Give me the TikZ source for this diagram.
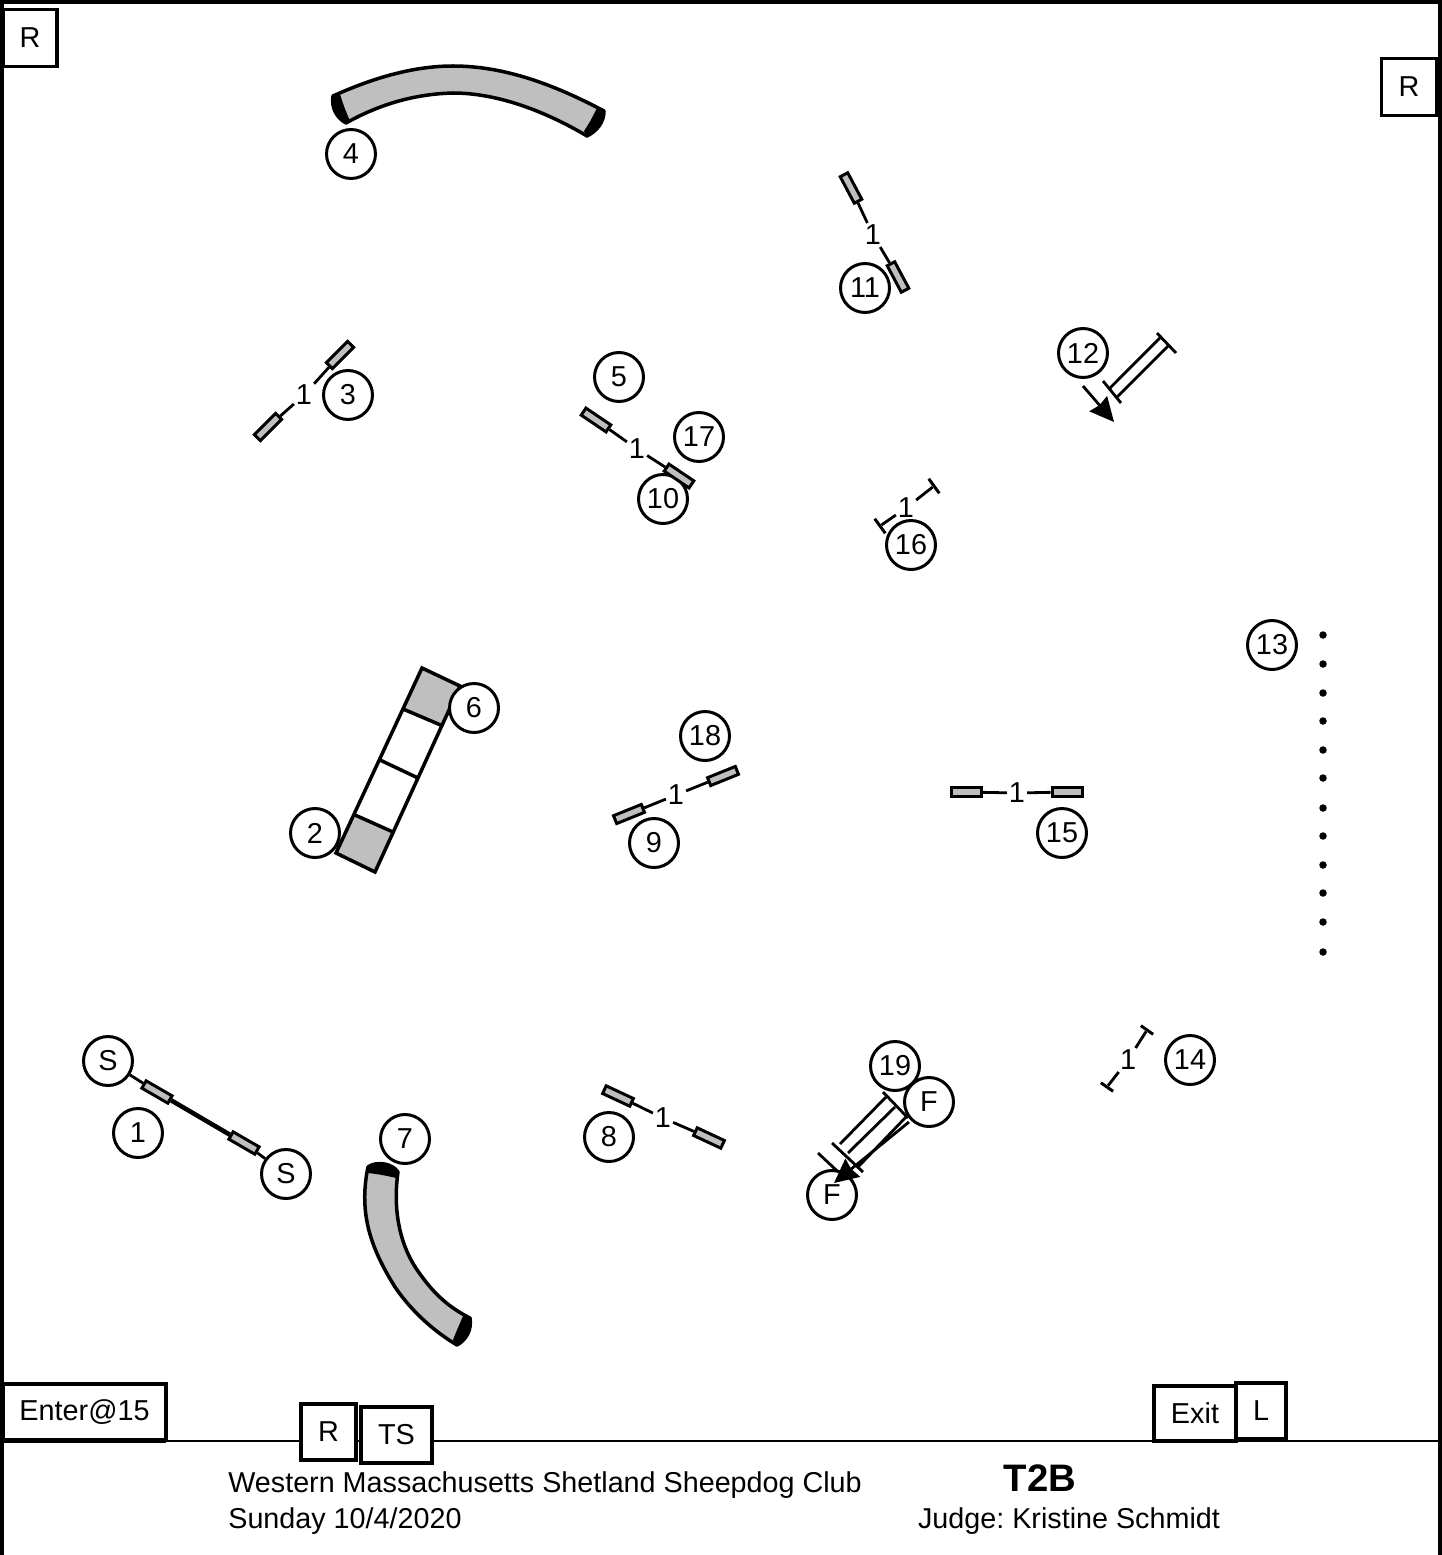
\documentclass[tikz,border=0pt]{standalone}
\usepackage{fontspec}
\setmainfont{Liberation Sans}
\usetikzlibrary{calc,arrows.meta,positioning}
\frenchspacing

\begin{document}
\begin{tikzpicture}[x=0.02cm, y=-0.02cm,
    obstacle/.style={line width=2pt, line join=miter},
    tunnel_fill/.style={fill=gray!50, draw=black, line width=2pt},
    number/.style={circle, draw=black, fill=white, line width=1.7pt,
      minimum size=0.98cm, inner sep=0pt, font=\fontsize{16.4}{18}\selectfont},
    sign/.style={rectangle, draw=black, fill=white, line width=2pt,
      inner sep=0pt, font=\fontsize{16.4}{18}\selectfont},
    wing/.style={rectangle, draw=black, fill=gray!50, line width=1.7pt,
      minimum width=0.60cm, minimum height=0.17cm, inner sep=0pt},
    bar_num/.style={inner sep=1pt, font=\fontsize{16.4}{18}\selectfont},
    bar_line/.style={line width=1.6pt},
    tick/.style={rectangle, fill=black, minimum height=1.7pt, inner sep=0pt},
    pole/.style={circle, fill=black, minimum size=0.15cm, inner sep=0pt},
    caption/.style={inner sep=0pt, font=\fontsize{16.35}{18}\selectfont},
    big_tip/.style={>={Stealth[length=0.48cm, width=0.46cm, inset=1pt]}},
    >=Stealth
  ]
  \useasboundingbox (0,0) rectangle (1442,1555);

  % --- Ring ---
  \draw[line width=2pt] (2,1555) -- (2,2) -- (1440,2) -- (1440,1555);
  \draw[line width=0.8pt] (2,1441) -- (1440,1441);
  \draw[line width=2pt] (2,1441) -- (166,1441);

  % --- Tunnel 4 ---
  \draw[tunnel_fill, line join=round] (333,96) .. controls (375,77) and (415,66) .. (453,66)
    .. controls (505,66) and (555,85) .. (604,111)
    .. controls (604,122) and (597,131) .. (587,136)
    .. controls (545,111) and (497,93) .. (453,93)
    .. controls (415,94) and (380,104) .. (346,123)
    .. controls (337,118) and (331,108) .. (333,96) -- cycle;
  \fill (333,96) .. controls (331,108) and (337,118) .. (346,123)
    -- (350,121) .. controls (346,112) and (343,104) .. (340,94) -- cycle;
  \fill (604,111) .. controls (604,122) and (597,131) .. (587,136)
    -- (584,131) .. controls (589,124) and (593,116) .. (597,108) -- cycle;

  % --- Tunnel 7 ---
  \draw[tunnel_fill, line join=round] (368,1167) .. controls (376,1161) and (392,1163) .. (398,1172)
    .. controls (392,1215) and (402,1250) .. (420,1274)
    .. controls (435,1295) and (450,1308) .. (470,1318)
    .. controls (472,1330) and (466,1340) .. (457,1345)
    .. controls (435,1332) and (412,1312) .. (395,1287)
    .. controls (372,1250) and (358,1215) .. (368,1167) -- cycle;
  \fill (368,1167) .. controls (376,1161) and (392,1163) .. (398,1172)
    -- (396,1178) .. controls (388,1176) and (378,1174) .. (368,1173) -- cycle;
  \fill (470,1318) .. controls (472,1330) and (466,1340) .. (457,1345)
    -- (453,1340) .. controls (456,1332) and (460,1323) .. (464,1314) -- cycle;

  % --- Dog walk ---
  \coordinate (D1) at (422,668);
  \coordinate (D2) at (460,686);
  \coordinate (D3) at (375,872);
  \coordinate (D4) at (336,853);
  \coordinate (U1) at (403,709);
  \coordinate (U2) at (443,726);
  \coordinate (L1) at (355,815);
  \coordinate (L2) at (393,832);
  \coordinate (M1) at (380,760);
  \coordinate (M2) at (418,778);
  \fill[gray!50] (D1) -- (D2) -- (U2) -- (U1) -- cycle;
  \fill[gray!50] (L1) -- (L2) -- (D3) -- (D4) -- cycle;
  \draw[obstacle] (D1) -- (D2) -- (D3) -- (D4) -- cycle;
  \draw[obstacle] (U1) -- (U2);
  \draw[obstacle] (M1) -- (M2);
  \draw[obstacle] (L1) -- (L2);

  % --- Numbers ---
  \node[number] (n1) at (138,1133) {1};
  \node[number] (n2) at (315,833) {2};
  \node[number] (n3) at (348,395) {3};
  \node[number] (n4) at (351,154) {4};
  \node[number] (n5) at (619,377) {5};
  \node[number] (n6) at (474,708) {6};
  \node[number] (n7) at (405,1139) {7};
  \node[number] (n8) at (609,1137) {8};
  \node[number] (n9) at (654,843) {9};
  \node[number] (n10) at (663,499) {10};
  \node[number] (n11) at (865,288) {11};
  \node[number] (n12) at (1083,353) {12};
  \node[number] (n13) at (1272,645) {13};
  \node[number] (n14) at (1190,1060) {14};
  \node[number] (n15) at (1062,833) {15};
  \node[number] (n16) at (911,545) {16};
  \node[number] (n17) at (699,437) {17};
  \node[number] (n18) at (705,736) {18};
  \node[number] (n19) at (895,1066) {19};
  \node[number] (startA) at (108,1061) {S};
  \node[number] (startB) at (286,1174) {S};

  % --- Start jump ---
  \node[wing, rotate=-30] (w1a) at (157,1092) {};
  \node[wing, rotate=-30] (w1b) at (244,1143) {};
  \draw[bar_line] (startA) -- (w1a);
  \draw[line width=2.6pt] (w1a) -- (w1b);
  \draw[bar_line] (w1b) -- (startB);

  % --- Winged jumps ---
  \node[wing, rotate=45] (w3a) at (268,427) {};
  \node[wing, rotate=45] (w3b) at (340,355) {};
  \node[bar_num] (j3) at (304,395) {1};
  \draw[bar_line] (w3a) -- (j3) -- (w3b);

  \node[wing, rotate=-34] (w5a) at (596,420) {};
  \node[wing, rotate=-34] (w5b) at (679,476) {};
  \node[bar_num] (j5) at (637,449) {1};
  \draw[bar_line] (w5a) -- (j5) -- (w5b);

  \node[wing, rotate=-62] (w11a) at (851,188) {};
  \node[wing, rotate=-62] (w11b) at (898,277) {};
  \node[bar_num] (j11) at (873,235) {1};
  \draw[bar_line] (w11a) -- (j11) -- (w11b);

  \node[wing, rotate=22] (w9a) at (629,814) {};
  \node[wing, rotate=22] (w9b) at (723,776) {};
  \node[bar_num] (j9) at (676,795) {1};
  \draw[bar_line] (w9a) -- (j9) -- (w9b);

  \node[wing] (w15a) at (966,792) {};
  \node[wing] (w15b) at (1067,792) {};
  \node[bar_num] (j15) at (1017,793) {1};
  \draw[bar_line] (w15a) -- (j15) -- (w15b);

  \node[wing, rotate=-25] (w8a) at (618,1096) {};
  \node[wing, rotate=-25] (w8b) at (709,1138) {};
  \node[bar_num] (j8) at (663,1118) {1};
  \draw[bar_line] (w8a) -- (j8) -- (w8b);

  % --- Small jumps ---
  \node[tick, minimum width=0.36cm, rotate=-54] (t16a) at (880,526) {};
  \node[tick, minimum width=0.36cm, rotate=-54] (t16b) at (934,486) {};
  \node[bar_num] (j16) at (906,508) {1};
  \draw[bar_line] (t16a) -- (j16) -- (t16b);

  \node[tick, minimum width=0.30cm, rotate=-35] (t14a) at (1107,1087) {};
  \node[tick, minimum width=0.30cm, rotate=-35] (t14b) at (1147,1030) {};
  \node[bar_num] (j14) at (1128,1060) {1};
  \draw[bar_line] (t14a) -- (j14) -- (t14b);

  % --- Jump 12 ---
  \coordinate (A12) at (1157,333);
  \coordinate (B12) at (1176,353);
  \coordinate (C12) at (1103,381);
  \coordinate (E12) at (1121,403);
  \coordinate (G12) at (1083,386);
  \coordinate (H12) at (1114,422);
  \draw[bar_line] (A12) -- (B12);
  \draw[bar_line] (C12) -- (E12);
  \draw[bar_line] ($(A12)!0.2!(B12)$) -- ($(C12)!0.35!(E12)$);
  \draw[bar_line] ($(A12)!0.62!(B12)$) -- ($(C12)!0.75!(E12)$);
  \draw[->, big_tip, bar_line] (G12) -- (H12);

  % --- Finish ---
  \coordinate (A19) at (883,1092);
  \coordinate (B19) at (908,1118);
  \coordinate (C19) at (832,1143);
  \coordinate (E19) at (863,1172);
  \coordinate (G19) at (818,1153);
  \coordinate (H19) at (850,1183);
  \coordinate (K19) at (909,1122);
  \coordinate (P19) at (834,1183);
  \draw[bar_line] (A19) -- (B19);
  \draw[bar_line] (C19) -- (E19);
  \draw[bar_line] (840,1144) -- (886,1097);
  \draw[bar_line] (848,1153) -- (895,1107);
  \draw[bar_line] (858,1167) -- (906,1117);
  \draw[bar_line] (G19) -- (H19);
  \node[number] (finishA) at (929,1102) {F};
  \node[number] (finishB) at (832,1195) {F};
  \draw[->, big_tip, bar_line] (K19) -- (P19);

  % --- Weave poles ---
  \foreach \i/\y in {1/635, 2/664, 3/693, 4/721, 5/750, 6/778, 7/808, 8/836, 9/865, 10/893, 11/922, 12/952}
    \node[pole] (pole\i) at (1323,\y) {};

  % --- Signs ---
  \node[sign, minimum width=1.08cm, minimum height=1.14cm] (ringA) at (30,38) {R};
  \node[sign, minimum width=1.10cm, minimum height=1.14cm] (ringB) at (1409,87) {R};
  \node[sign, minimum width=3.26cm, minimum height=1.12cm] (enter) at (84.5,1412) {Enter@15};
  \node[sign, minimum width=1.10cm, minimum height=1.12cm] (ringC) at (328.5,1432) {R};
  \node[sign, minimum width=1.42cm, minimum height=1.12cm] (timer) at (396.5,1435) {TS};
  \node[sign, minimum width=1.64cm, minimum height=1.10cm] (exit) at (1195,1413.5) {Exit};
  \node[sign, minimum width=1.00cm, minimum height=1.12cm] (leash) at (1261,1411) {L};

  % --- Title block ---
  \node[caption, anchor=base west] (club) at (228,1492) {Western Massachusetts Shetland Sheepdog Club};
  \node[caption, anchor=base west] (date) at (228,1528) {Sunday 10/4/2020};
  \node[caption, anchor=base, font=\fontsize{21.8}{24}\selectfont\bfseries] (course) at (1040,1491) {T2B};
  \node[caption, anchor=base] (judge) at (1069,1528) {Judge: Kristine Schmidt};
\end{tikzpicture}
\end{document}
